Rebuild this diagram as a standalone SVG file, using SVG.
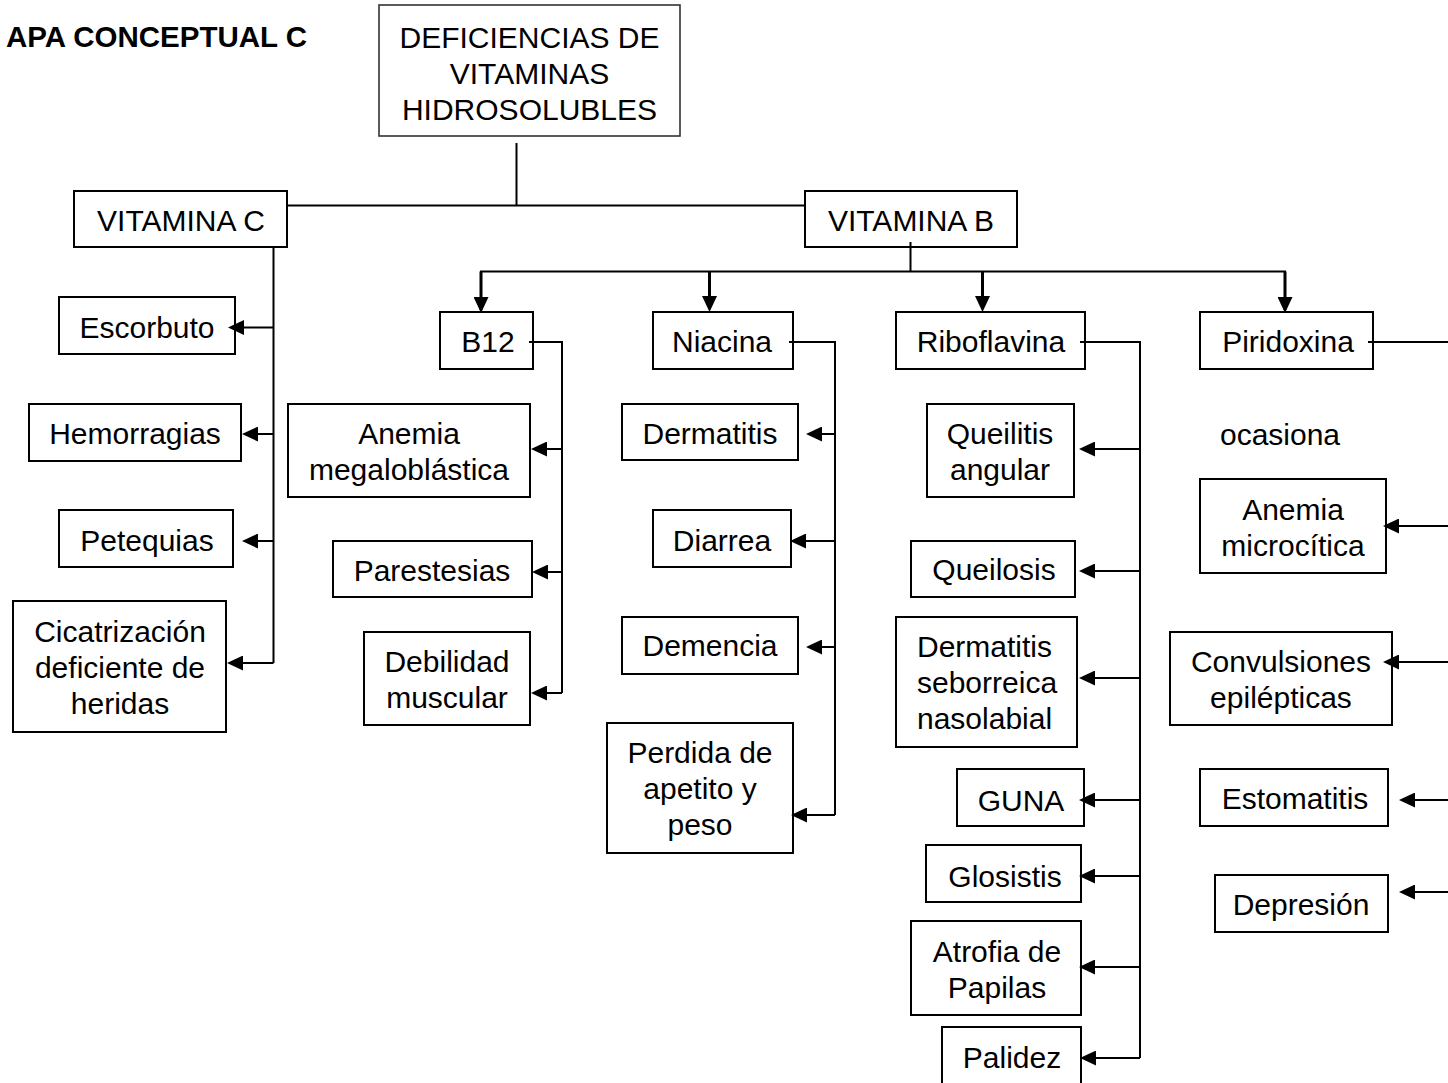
<svg xmlns="http://www.w3.org/2000/svg" width="1448" height="1083" viewBox="0 0 1448 1083">
  <style>
    .box { fill: #fff; stroke: #000; stroke-width: 2; }
    .t { font-family: "Liberation Sans", Arial, sans-serif; font-size: 30px; fill: #000; text-anchor: middle; }
    .tl { text-anchor: start; }
    .title { font-family: "Liberation Sans", Arial, sans-serif; font-size: 29.5px; font-weight: bold; fill: #000; text-anchor: end; }
    .conn { fill: none; stroke: #000; stroke-width: 2; }
    .arr { fill: none; stroke: #000; stroke-width: 2; marker-end: url(#head); }
    .down { fill: none; stroke: #000; stroke-width: 3; marker-end: url(#head); }
  </style>
  <defs>
    <marker id="head" markerUnits="userSpaceOnUse" markerWidth="16" markerHeight="15" refX="13" refY="7.5" orient="auto">
      <path d="M0,0 L16,7.5 L0,15 z" fill="#000"/>
    </marker>
  </defs>
  <rect width="1448" height="1083" fill="#fff"/>

  <text class="title" x="307" y="47">APA CONCEPTUAL C</text>

  <!-- nodes -->
  <g id="root">
    <rect x="379" y="5" width="301" height="131" fill="#fff" stroke="#333" stroke-width="1.6"/>
    <text class="t" x="529.5" y="48">DEFICIENCIAS DE</text>
    <text class="t" x="529.5" y="84">VITAMINAS</text>
    <text class="t" x="529.5" y="120">HIDROSOLUBLES</text>
  </g>
  <g id="vitamina-c">
    <rect class="box" x="74" y="191" width="213" height="56"/>
    <text class="t" x="181" y="231">VITAMINA C</text>
  </g>
  <g id="vitamina-b">
    <rect class="box" x="805" y="191" width="212" height="56"/>
    <text class="t" x="911" y="231">VITAMINA B</text>
  </g>

  <g id="escorbuto">
    <rect class="box" x="59" y="297" width="176" height="57"/>
    <text class="t" x="147" y="338">Escorbuto</text>
  </g>
  <g id="hemorragias">
    <rect class="box" x="29" y="404" width="212" height="57"/>
    <text class="t" x="135" y="444">Hemorragias</text>
  </g>
  <g id="petequias">
    <rect class="box" x="59" y="510" width="174" height="57"/>
    <text class="t" x="147" y="551">Petequias</text>
  </g>
  <g id="cicatrizacion">
    <rect class="box" x="13" y="601" width="213" height="131"/>
    <text class="t" x="120" y="642">Cicatrización</text>
    <text class="t" x="120" y="678">deficiente de</text>
    <text class="t" x="120" y="714">heridas</text>
  </g>

  <g id="b12">
    <rect class="box" x="440" y="312" width="93" height="57"/>
    <text class="t" x="488" y="352">B12</text>
  </g>
  <g id="anemia-megaloblastica">
    <rect class="box" x="288" y="404" width="242" height="93"/>
    <text class="t" x="409" y="444">Anemia</text>
    <text class="t" x="409" y="480">megaloblástica</text>
  </g>
  <g id="parestesias">
    <rect class="box" x="333" y="541" width="199" height="56"/>
    <text class="t" x="432" y="581">Parestesias</text>
  </g>
  <g id="debilidad-muscular">
    <rect class="box" x="364" y="632" width="166" height="93"/>
    <text class="t" x="447" y="672">Debilidad</text>
    <text class="t" x="447" y="708">muscular</text>
  </g>

  <g id="niacina">
    <rect class="box" x="653" y="312" width="140" height="57"/>
    <text class="t" x="722" y="352">Niacina</text>
  </g>
  <g id="dermatitis">
    <rect class="box" x="622" y="404" width="176" height="56"/>
    <text class="t" x="710" y="444">Dermatitis</text>
  </g>
  <g id="diarrea">
    <rect class="box" x="653" y="510" width="138" height="57"/>
    <text class="t" x="722" y="551">Diarrea</text>
  </g>
  <g id="demencia">
    <rect class="box" x="622" y="617" width="176" height="57"/>
    <text class="t" x="710" y="656">Demencia</text>
  </g>
  <g id="perdida-apetito">
    <rect class="box" x="607" y="723" width="186" height="130"/>
    <text class="t" x="700" y="763">Perdida de</text>
    <text class="t" x="700" y="799">apetito y</text>
    <text class="t" x="700" y="835">peso</text>
  </g>

  <g id="riboflavina">
    <rect class="box" x="896" y="312" width="189" height="57"/>
    <text class="t" x="991" y="352">Riboflavina</text>
  </g>
  <g id="queilitis-angular">
    <rect class="box" x="927" y="404" width="147" height="93"/>
    <text class="t" x="1000" y="444">Queilitis</text>
    <text class="t" x="1000" y="480">angular</text>
  </g>
  <g id="queilosis">
    <rect class="box" x="911" y="541" width="164" height="56"/>
    <text class="t" x="994" y="580">Queilosis</text>
  </g>
  <g id="dermatitis-seborreica">
    <rect class="box" x="896" y="617" width="181" height="130"/>
    <text class="t tl" x="917" y="657">Dermatitis</text>
    <text class="t tl" x="917" y="693">seborreica</text>
    <text class="t tl" x="917" y="729">nasolabial</text>
  </g>
  <g id="guna">
    <rect class="box" x="957" y="769" width="127" height="57"/>
    <text class="t" x="1021" y="811">GUNA</text>
  </g>
  <g id="glosistis">
    <rect class="box" x="926" y="845" width="155" height="57"/>
    <text class="t" x="1005" y="887">Glosistis</text>
  </g>
  <g id="atrofia-papilas">
    <rect class="box" x="911" y="921" width="170" height="94"/>
    <text class="t" x="997" y="962">Atrofia de</text>
    <text class="t" x="997" y="998">Papilas</text>
  </g>
  <g id="palidez">
    <rect class="box" x="942" y="1027" width="139" height="64"/>
    <text class="t" x="1012" y="1068">Palidez</text>
  </g>

  <g id="piridoxina">
    <rect class="box" x="1200" y="312" width="173" height="57"/>
    <text class="t" x="1288" y="352">Piridoxina</text>
  </g>
  <g id="ocasiona">
    <text class="t" x="1280" y="445">ocasiona</text>
  </g>
  <g id="anemia-microcitica">
    <rect class="box" x="1200" y="479" width="186" height="94"/>
    <text class="t" x="1293" y="520">Anemia</text>
    <text class="t" x="1293" y="556">microcítica</text>
  </g>
  <g id="convulsiones">
    <rect class="box" x="1170" y="632" width="222" height="93"/>
    <text class="t" x="1281" y="672">Convulsiones</text>
    <text class="t" x="1281" y="708">epilépticas</text>
  </g>
  <g id="estomatitis">
    <rect class="box" x="1200" y="769" width="188" height="57"/>
    <text class="t" x="1295" y="809">Estomatitis</text>
  </g>
  <g id="depresion">
    <rect class="box" x="1215" y="875" width="173" height="57"/>
    <text class="t" x="1301" y="915">Depresión</text>
  </g>

  <!-- connectors, drawn over the box borders -->
  <g id="connectors">
    <!-- root to the two vitamin groups -->
    <path class="conn" d="M516.5,143 V205.5 M287,205.5 H805"/>
    <!-- vitamin B fan-out -->
    <path class="conn" d="M910.5,242 V271.5 M480,271.5 H1286"/>
    <path class="down" d="M481,271.5 V310"/>
    <path class="down" d="M709.5,271.5 V309"/>
    <path class="down" d="M982.5,271.5 V309"/>
    <path class="down" d="M1285,271.5 V310"/>

    <!-- vitamin C trunk -->
    <path class="conn" d="M273.5,247 V663"/>
    <path class="arr" d="M273.5,327.5 H231"/>
    <path class="arr" d="M273.5,434 H245"/>
    <path class="arr" d="M273.5,541 H245"/>
    <path class="arr" d="M273.5,663 H230"/>

    <!-- B12 trunk -->
    <path class="conn" d="M529,342 H562 V693"/>
    <path class="arr" d="M562,449 H534"/>
    <path class="arr" d="M562,572 H535"/>
    <path class="arr" d="M562,693 H534"/>

    <!-- Niacina trunk -->
    <path class="conn" d="M789,342 H835 V815"/>
    <path class="arr" d="M835,434 H809"/>
    <path class="arr" d="M835,541 H793"/>
    <path class="arr" d="M835,647 H809"/>
    <path class="arr" d="M835,815 H794"/>

    <!-- Riboflavina trunk -->
    <path class="conn" d="M1080,342 H1140 V1058"/>
    <path class="arr" d="M1140,449 H1082"/>
    <path class="arr" d="M1140,571 H1082"/>
    <path class="arr" d="M1140,678 H1082"/>
    <path class="arr" d="M1140,800 H1082"/>
    <path class="arr" d="M1140,876 H1082"/>
    <path class="arr" d="M1140,967 H1082"/>
    <path class="arr" d="M1140,1058 H1083"/>

    <!-- Piridoxina links, trunk runs past the right edge -->
    <path class="conn" d="M1368,342 H1450"/>
    <path class="arr" d="M1450,526 H1386"/>
    <path class="arr" d="M1450,662 H1386"/>
    <path class="arr" d="M1450,800 H1402"/>
    <path class="arr" d="M1450,892 H1402"/>
  </g>
</svg>
